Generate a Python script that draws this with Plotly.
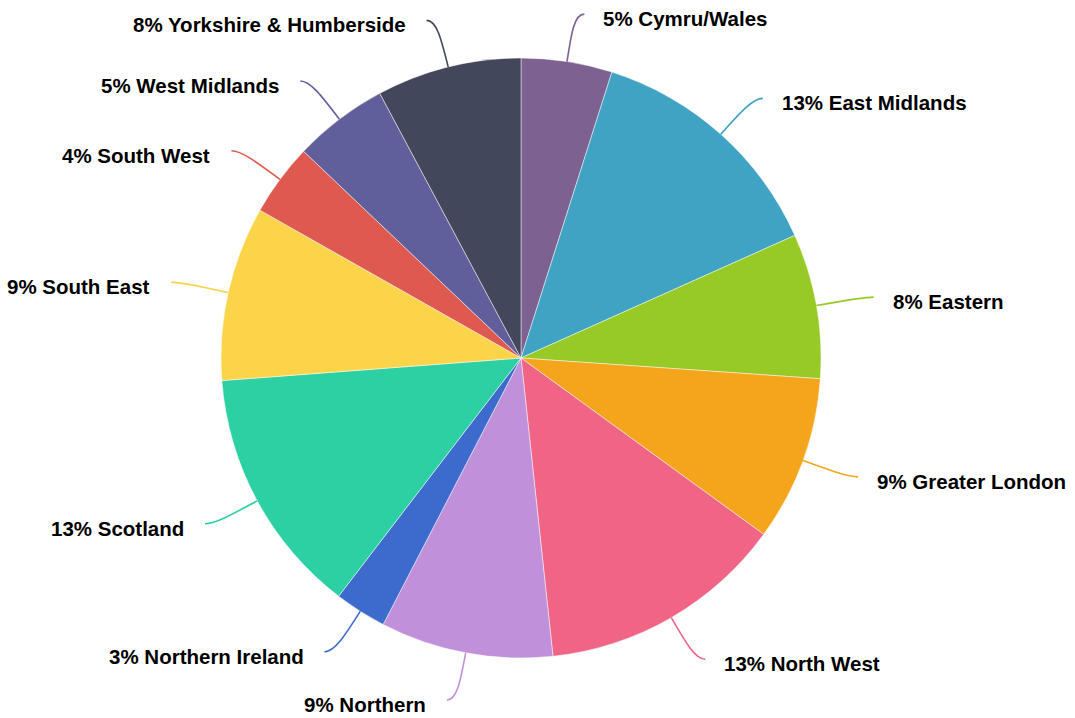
import math
import plotly.graph_objects as go

# Regional share, clockwise from 12 o'clock
regions = ["Cymru/Wales", "East Midlands", "Eastern", "Greater London", "North West",
           "Northern", "Northern Ireland", "Scotland", "South East", "South West",
           "West Midlands", "Yorkshire & Humberside"]
shares = [4.9, 13.4, 7.8, 8.9, 13.3, 9.3, 2.8, 13.4, 9.4, 3.9, 5.1, 7.8]
colors = ["#7d6191", "#40a3c3", "#97c927", "#f5a51b", "#f06585", "#c091da",
          "#3d6bcd", "#2dd0a3", "#fcd44a", "#de5a50", "#615f9b", "#42475b"]

W, H = 1075, 718
CX, CY, R = 521, 358, 300      # pie centre and radius in pixels
R_LABEL = 348                  # radius where leader lines turn horizontal
TAIL = 10                      # horizontal tail of each leader line
GAP_RIGHT, GAP_LEFT = 17, 19   # space between line end and text


def px(x, y):
    return x / W, 1 - y / H


fig = go.Figure(go.Pie(
    labels=regions, values=shares, sort=False, direction="clockwise", rotation=0,
    marker=dict(colors=colors, line=dict(color="rgba(255,255,255,0.6)", width=0.8)),
    textinfo="none", hoverinfo="skip", showlegend=False,
    domain=dict(x=[(CX - R) / W, (CX + R) / W], y=[1 - (CY + R) / H, 1 - (CY - R) / H]),
))

total = sum(shares)
shapes, annotations = [], []
cum = 0.0
for name, val, col in zip(regions, shares, colors):
    mid = math.radians((cum + val / 2) / total * 360)
    cum += val
    ux, uy = math.sin(mid), -math.cos(mid)
    side = 1 if ux >= 0 else -1
    p0 = (CX + R * ux, CY + R * uy)
    p1 = (CX + (R + 30) * ux, CY + (R + 30) * uy)
    p2 = (CX + R_LABEL * ux, CY + R_LABEL * uy)
    p3 = (p2[0] + side * TAIL, p2[1])
    pts = [px(*p) for p in (p0, p1, p2, p3)]
    path = "M {:.5f} {:.5f} C {:.5f} {:.5f} {:.5f} {:.5f} {:.5f} {:.5f}".format(
        *pts[0], *pts[1], *pts[2], *pts[3])
    shapes.append(dict(type="path", path=path, xref="paper", yref="paper",
                       line=dict(color=col, width=1.6)))
    gap = GAP_RIGHT if side > 0 else GAP_LEFT
    tx, ty = px(p3[0] + side * gap, p3[1] + 4.5)
    pct = round(val / total * 100)
    annotations.append(dict(
        text=f"<b>{pct}% {name}</b>", x=tx, y=ty, xref="paper", yref="paper",
        xanchor="left" if side > 0 else "right", yanchor="middle", showarrow=False,
        font=dict(family="Liberation Sans, Arial, sans-serif", size=20.5, color="#000000"),
    ))

fig.update_layout(
    width=W, height=H, margin=dict(l=0, r=0, t=0, b=0),
    paper_bgcolor="white", plot_bgcolor="white",
    shapes=shapes, annotations=annotations,
    font=dict(family="Liberation Sans, Arial, sans-serif"),
)

fig.write_html("out.html")
